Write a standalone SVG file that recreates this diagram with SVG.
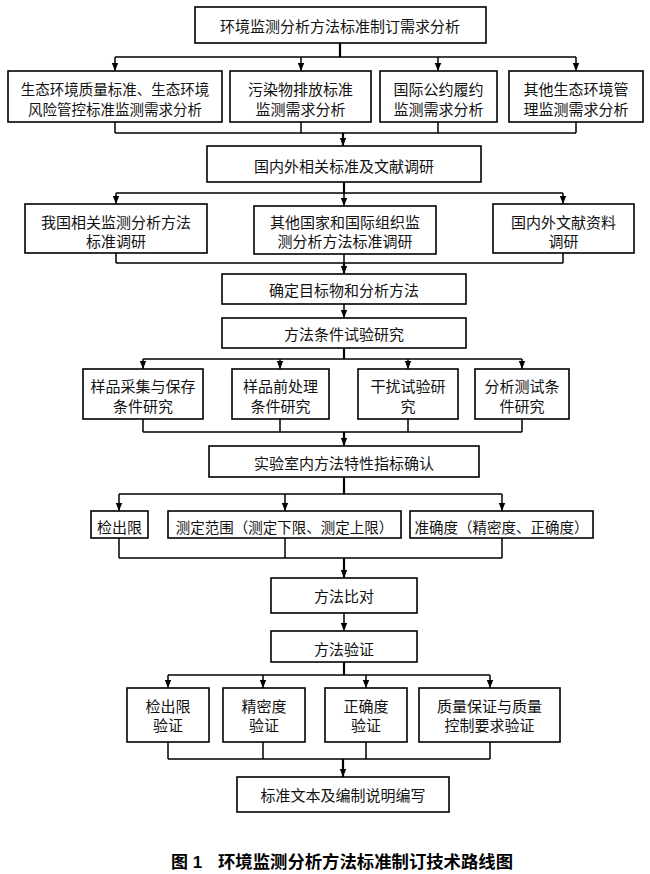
<svg xmlns="http://www.w3.org/2000/svg" width="650" height="874" viewBox="0 0 650 874">
<defs>
<marker id="ah" markerUnits="userSpaceOnUse" markerWidth="8" markerHeight="8" viewBox="0 0 8 8" refX="8" refY="4" orient="auto">
<path d="M0,0.8 L8,4 L0,7.2 Z" fill="#000"/>
</marker>
<style>
rect{fill:#fff;stroke:#000;stroke-width:1.6}
text{font-family:"Noto Sans CJK SC","Liberation Serif",serif;font-size:15px;fill:#111;text-anchor:middle;dominant-baseline:central}
.s{font-size:14.5px}
.c path{fill:none;stroke:#000;stroke-width:1.5}
.c .t{stroke-width:2.2}
.c .a{marker-end:url(#ah)}
.cap{font-family:"Liberation Sans","Noto Sans CJK SC",sans-serif;font-size:17px;font-weight:bold;text-anchor:start;fill:#000}
</style>
</defs>
<rect x="0" y="0" width="650" height="874" style="fill:#fff;stroke:none"/>

<g class="c" id="connectors">
<path class="t" d="M340,43 V57"/>
<path d="M115,57 H576"/>
<path class="a" d="M115,57 V71"/>
<path class="a" d="M301,57 V71"/>
<path class="a" d="M438,57 V71"/>
<path class="a" d="M576,57 V71"/>
<path d="M115,122 V133 M301,122 V133 M438,122 V133 M576,122 V133 M115,133 H576"/>
<path class="a t" d="M343,133 V146"/>

<path class="t" d="M344,182 V193"/>
<path d="M116,193 H563"/>
<path class="a" d="M116,193 V204"/>
<path class="a" d="M344,193 V206"/>
<path class="a" d="M563,193 V204"/>
<path d="M116,253 V263 M344,254 V263 M563,253 V263 M116,263 H563"/>
<path class="a t" d="M344,263 V274"/>

<path class="a" d="M344,304 V318"/>
<path class="t" d="M344,348 V359"/>
<path d="M143,359 H522"/>
<path class="a" d="M143,359 V369"/>
<path class="a" d="M280,359 V369"/>
<path class="a" d="M408,359 V369"/>
<path class="a" d="M522,359 V369"/>
<path d="M143,419 V432 M280,419 V432 M408,419 V432 M522,419 V432 M143,432 H522"/>
<path class="a t" d="M344,432 V446"/>

<path class="t" d="M344,477 V494"/>
<path d="M119,494 H502"/>
<path class="a" d="M119,494 V511"/>
<path class="a" d="M285,494 V511"/>
<path class="a" d="M502,494 V511"/>
<path d="M119,538 V558 M285,538 V558 M502,538 V558 M119,558 H502"/>
<path class="a t" d="M344,558 V578"/>

<path class="a" d="M344,613 V631"/>
<path class="t" d="M344,662 V675"/>
<path d="M168,675 H490"/>
<path class="a" d="M168,675 V688"/>
<path class="a" d="M263,675 V688"/>
<path class="a" d="M366,675 V688"/>
<path class="a" d="M490,675 V688"/>
<path d="M168,742 V759 M263,742 V759 M366,742 V759 M490,742 V759 M168,759 H490"/>
<path class="a t" d="M343,759 V777"/>
</g>

<g id="n-top"><rect x="195" y="7" width="291" height="36"/><text x="340" y="25">环境监测分析方法标准制订需求分析</text></g>

<g id="n-eco"><rect x="8" y="71" width="214" height="51"/><text class="s" x="115" y="88">生态环境质量标准、生态环境</text><text class="s" x="115" y="108">风险管控标准监测需求分析</text></g>
<g id="n-pollut"><rect x="230" y="71" width="141" height="51"/><text x="300.5" y="88">污染物排放标准</text><text x="300.5" y="108">监测需求分析</text></g>
<g id="n-intl"><rect x="380" y="71" width="117" height="51"/><text x="438.5" y="88">国际公约履约</text><text x="438.5" y="108">监测需求分析</text></g>
<g id="n-other"><rect x="509" y="71" width="134" height="51"/><text x="576" y="88">其他生态环境管</text><text x="576" y="108">理监测需求分析</text></g>

<g id="n-survey"><rect x="207" y="146" width="274" height="36"/><text x="344" y="165">国内外相关标准及文献调研</text></g>

<g id="n-cn"><rect x="25" y="204" width="182" height="49"/><text x="116" y="221">我国相关监测分析方法</text><text x="116" y="240">标准调研</text></g>
<g id="n-foreign"><rect x="254" y="206" width="182" height="48"/><text x="345" y="221">其他国家和国际组织监</text><text x="345" y="240">测分析方法标准调研</text></g>
<g id="n-lit"><rect x="493" y="204" width="141" height="49"/><text x="563.5" y="221">国内外文献资料</text><text x="563.5" y="240">调研</text></g>

<g id="n-target"><rect x="222" y="274" width="244" height="30"/><text x="344" y="289">确定目标物和分析方法</text></g>
<g id="n-cond"><rect x="222" y="318" width="244" height="30"/><text x="344" y="333">方法条件试验研究</text></g>

<g id="n-sample"><rect x="83" y="369" width="120" height="50"/><text x="143" y="385">样品采集与保存</text><text x="143" y="405">条件研究</text></g>
<g id="n-pre"><rect x="232" y="369" width="97" height="50"/><text x="280.5" y="385">样品前处理</text><text x="280.5" y="405">条件研究</text></g>
<g id="n-interf"><rect x="358" y="369" width="100" height="50"/><text x="408" y="385">干扰试验研</text><text x="408" y="405">究</text></g>
<g id="n-anal"><rect x="475" y="369" width="94" height="50"/><text x="522" y="385">分析测试条</text><text x="522" y="405">件研究</text></g>

<g id="n-lab"><rect x="209" y="446" width="270" height="31"/><text x="344" y="462">实验室内方法特性指标确认</text></g>

<g id="n-lod"><rect x="91" y="511" width="57" height="27"/><text x="119.5" y="526">检出限</text></g>
<g id="n-range"><rect x="168" y="511" width="233" height="27"/><text class="s" x="284.5" y="526">测定范围（测定下限、测定上限）</text></g>
<g id="n-acc"><rect x="410" y="511" width="183" height="27"/><text class="s" x="501.5" y="526">准确度（精密度、正确度）</text></g>

<g id="n-compare"><rect x="271" y="578" width="146" height="35"/><text x="344" y="595">方法比对</text></g>
<g id="n-verify"><rect x="271" y="631" width="146" height="31"/><text x="344" y="648">方法验证</text></g>

<g id="n-vlod"><rect x="127" y="688" width="82" height="54"/><text x="168" y="705">检出限</text><text x="168" y="724">验证</text></g>
<g id="n-vprec"><rect x="223" y="688" width="82" height="54"/><text x="264" y="705">精密度</text><text x="264" y="724">验证</text></g>
<g id="n-vtrue"><rect x="325" y="688" width="82" height="54"/><text x="366" y="705">正确度</text><text x="366" y="724">验证</text></g>
<g id="n-vqa"><rect x="419" y="688" width="141" height="54"/><text x="489.5" y="705">质量保证与质量</text><text x="489.5" y="724">控制要求验证</text></g>

<g id="n-write"><rect x="237" y="777" width="212" height="35"/><text x="343" y="794">标准文本及编制说明编写</text></g>

<text class="cap" x="171" y="862">图 1</text>
<text class="cap" x="218" y="862" textLength="295" lengthAdjust="spacingAndGlyphs">环境监测分析方法标准制订技术路线图</text>
</svg>
